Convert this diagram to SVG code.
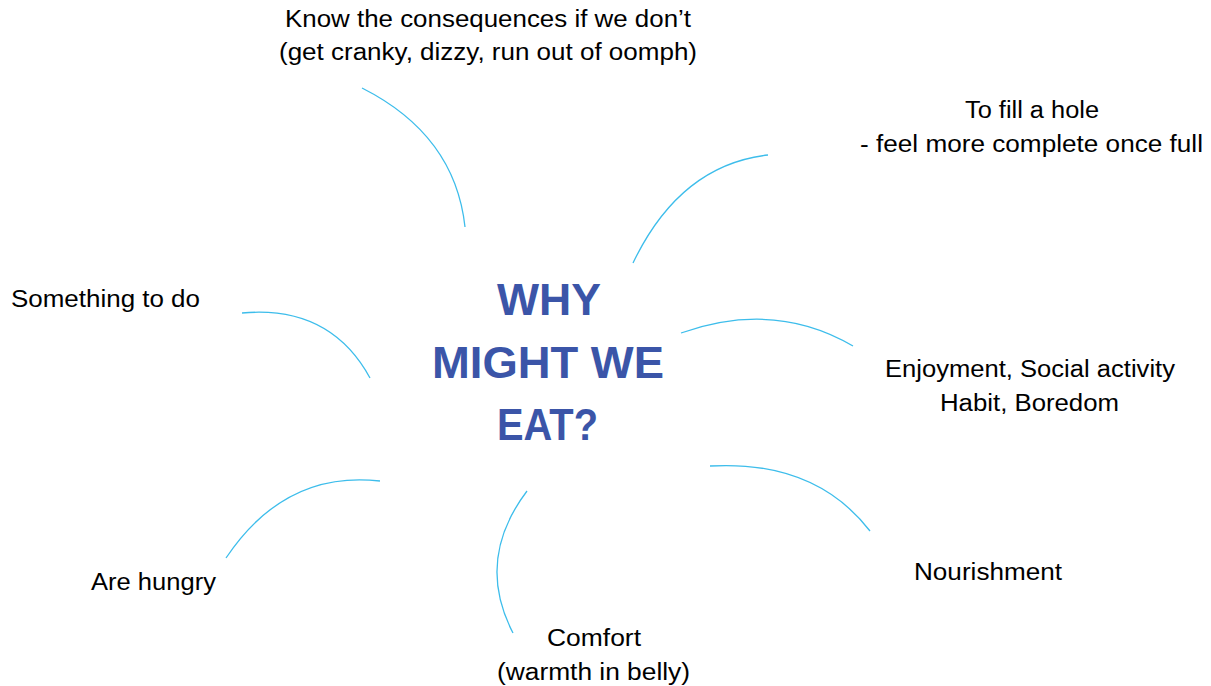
<svg xmlns="http://www.w3.org/2000/svg" width="1211" height="686" viewBox="0 0 1211 686">
<style>
.t{font-family:"Liberation Sans",Arial,sans-serif;font-size:23.5px;fill:#000}
.c{font-family:"Liberation Sans",Arial,sans-serif;font-size:45px;font-weight:bold;fill:#3B55A8}
.l{fill:none;stroke:#3DBDEB;stroke-width:1.3}
</style>
<rect width="1211" height="686" fill="#fff"/>
<g id="center">
<text class="c" x="497" y="315" textLength="104" lengthAdjust="spacingAndGlyphs">WHY</text>
<text class="c" x="432" y="378" textLength="232" lengthAdjust="spacingAndGlyphs">MIGHT WE</text>
<text class="c" x="497" y="440" textLength="101" lengthAdjust="spacingAndGlyphs">EAT?</text>
</g>
<g id="consequences">
<text class="t" x="285" y="27" textLength="406" lengthAdjust="spacingAndGlyphs">Know the consequences if we don’t</text>
<text class="t" x="279" y="60" textLength="418" lengthAdjust="spacingAndGlyphs">(get cranky, dizzy, run out of oomph)</text>
</g>
<g id="hole">
<text class="t" x="965" y="118" textLength="134" lengthAdjust="spacingAndGlyphs">To fill a hole</text>
<text class="t" x="860" y="152" textLength="343" lengthAdjust="spacingAndGlyphs">- feel more complete once full</text>
</g>
<g id="something">
<text class="t" x="11" y="307" textLength="189" lengthAdjust="spacingAndGlyphs">Something to do</text>
</g>
<g id="enjoyment">
<text class="t" x="885" y="377" textLength="290" lengthAdjust="spacingAndGlyphs">Enjoyment, Social activity</text>
<text class="t" x="940" y="411" textLength="179" lengthAdjust="spacingAndGlyphs">Habit, Boredom</text>
</g>
<g id="nourishment">
<text class="t" x="914" y="580" textLength="148" lengthAdjust="spacingAndGlyphs">Nourishment</text>
</g>
<g id="hungry">
<text class="t" x="91" y="590" textLength="125" lengthAdjust="spacingAndGlyphs">Are hungry</text>
</g>
<g id="comfort">
<text class="t" x="547" y="646" textLength="94" lengthAdjust="spacingAndGlyphs">Comfort</text>
<text class="t" x="497" y="680" textLength="193" lengthAdjust="spacingAndGlyphs">(warmth in belly)</text>
</g>
<g id="connectors">
<path class="l" d="M362,88 Q455,135 465,227"/>
<path class="l" d="M768,155 Q680,165 633,263"/>
<path class="l" d="M242,313 Q330,305 370,378"/>
<path class="l" d="M681,333 Q775,300 853,346"/>
<path class="l" d="M710,466 Q815,460 870,531"/>
<path class="l" d="M380,481 Q285,470 226,558"/>
<path class="l" d="M527,491 Q475,560 513,633"/>
</g>
</svg>
